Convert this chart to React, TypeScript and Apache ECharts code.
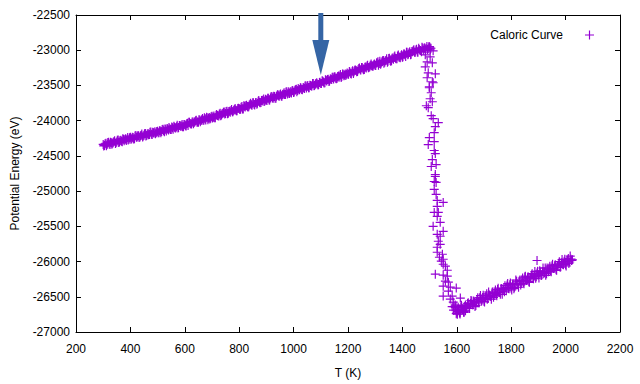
import React, { useEffect, useRef } from "react";
import * as echarts from "echarts";

// Solid (heating) branch: [T (K), E (eV)]
const solidBranch: number[][] = [
  [300,-24337],[305,-24352],[310,-24321],[315,-24335],[320,-24307],[325,-24338],[330,-24315],[335,-24321],[340,-24294],[345,-24323],
  [350,-24304],[355,-24276],[360,-24302],[365,-24279],[370,-24300],[375,-24263],[380,-24266],[385,-24281],[390,-24238],[395,-24263],
  [400,-24236],[405,-24255],[410,-24240],[415,-24255],[420,-24212],[425,-24233],[430,-24213],[435,-24232],[440,-24208],[445,-24232],
  [450,-24208],[455,-24182],[460,-24211],[465,-24183],[470,-24198],[475,-24161],[480,-24197],[485,-24170],[490,-24157],[495,-24172],
  [500,-24150],[505,-24171],[510,-24147],[515,-24153],[520,-24121],[525,-24156],[530,-24123],[535,-24110],[540,-24132],[545,-24114],
  [550,-24124],[555,-24099],[560,-24080],[565,-24105],[570,-24088],[575,-24103],[580,-24067],[585,-24080],[590,-24053],[595,-24088],
  [600,-24055],[605,-24074],[610,-24037],[615,-24022],[620,-24045],[625,-24047],[630,-24018],[635,-24024],[640,-24000],[645,-24022],
  [650,-24022],[655,-23991],[660,-23998],[665,-23969],[670,-23995],[675,-23974],[680,-23951],[685,-23986],[690,-23954],[695,-23964],
  [700,-23937],[705,-23950],[710,-23959],[715,-23922],[720,-23925],[725,-23935],[730,-23896],[735,-23918],[740,-23898],[745,-23876],
  [750,-23898],[755,-23868],[760,-23896],[765,-23867],[770,-23855],[775,-23873],[780,-23855],[785,-23826],[790,-23858],[795,-23829],
  [800,-23828],[805,-23838],[810,-23798],[815,-23833],[820,-23795],[825,-23784],[830,-23798],[835,-23802],[840,-23767],[845,-23775],
  [850,-23747],[855,-23769],[860,-23746],[865,-23766],[870,-23724],[875,-23737],[880,-23742],[885,-23711],[890,-23692],[895,-23719],
  [900,-23705],[905,-23682],[910,-23707],[915,-23679],[920,-23656],[925,-23681],[930,-23656],[935,-23681],[940,-23638],[945,-23648],
  [950,-23631],[955,-23650],[960,-23627],[965,-23605],[970,-23629],[975,-23588],[980,-23612],[985,-23616],[990,-23587],[995,-23573],
  [1000,-23600],[1005,-23567],[1010,-23553],[1015,-23571],[1020,-23558],[1025,-23531],[1030,-23559],[1035,-23534],[1040,-23543],[1045,-23505],
  [1050,-23516],[1055,-23532],[1060,-23497],[1065,-23508],[1070,-23473],[1075,-23504],[1080,-23483],[1085,-23462],[1090,-23493],[1095,-23458],
  [1100,-23472],[1105,-23434],[1110,-23450],[1115,-23460],[1120,-23426],[1125,-23415],[1130,-23443],[1135,-23409],[1140,-23415],[1145,-23385],
  [1150,-23380],[1155,-23397],[1160,-23399],[1165,-23366],[1170,-23367],[1175,-23387],[1180,-23337],[1185,-23361],[1190,-23337],[1195,-23340],
  [1200,-23339],[1205,-23302],[1210,-23332],[1215,-23306],[1220,-23329],[1225,-23286],[1230,-23288],[1235,-23303],[1240,-23258],[1245,-23278],
  [1250,-23247],[1255,-23263],[1260,-23273],[1265,-23237],[1270,-23225],[1275,-23249],[1280,-23233],[1285,-23196],[1290,-23225],[1295,-23205],
  [1300,-23218],[1305,-23183],[1310,-23163],[1315,-23190],[1320,-23198],[1325,-23163],[1330,-23147],[1335,-23171],[1340,-23147],[1345,-23171],
  [1350,-23117],[1355,-23145],[1360,-23151],[1365,-23111],[1370,-23096],[1375,-23113],[1380,-23120],[1385,-23067],[1390,-23098],[1395,-23077],
  [1400,-23099],[1405,-23054],[1410,-23067],[1415,-23028],[1420,-23066],[1425,-23034],[1430,-23065],[1435,-23018],[1440,-23003],[1445,-23028],
  [1450,-22996],[1455,-23027],[1460,-22973],[1465,-23003],[1470,-23020],[1475,-22967],[1480,-22975],[1485,-22994],[1490,-22946],[1495,-22978],
  [1500,-22950],[1505,-22972]
];

// Solid branch, intermediate samples
const solidBranchB: number[][] = [
  [302,-24358],[307,-24328],[312,-24356],[317,-24311],[322,-24330],[327,-24307],[332,-24334],[337,-24306],[342,-24284],[347,-24312],
  [352,-24279],[357,-24311],[362,-24280],[367,-24291],[372,-24255],[377,-24286],[382,-24256],[387,-24265],[392,-24276],[397,-24244],
  [402,-24263],[407,-24234],[412,-24261],[417,-24217],[422,-24236],[427,-24213],[432,-24240],[437,-24213],[442,-24191],[447,-24219],
  [452,-24186],[457,-24218],[462,-24188],[467,-24199],[472,-24163],[477,-24194],[482,-24165],[487,-24175],[492,-24185],[497,-24154],
  [502,-24173],[507,-24143],[512,-24170],[517,-24125],[522,-24144],[527,-24120],[532,-24147],[537,-24119],[542,-24097],[547,-24124],
  [552,-24091],[557,-24123],[562,-24092],[567,-24102],[572,-24066],[577,-24097],[582,-24067],[587,-24076],[592,-24086],[597,-24054],
  [602,-24073],[607,-24043],[612,-24069],[617,-24024],[622,-24042],[627,-24018],[632,-24044],[637,-24016],[642,-23993],[647,-24020],
  [652,-23986],[657,-24017],[662,-23986],[667,-23995],[672,-23959],[677,-23989],[682,-23959],[687,-23967],[692,-23977],[697,-23944],
  [702,-23963],[707,-23932],[712,-23958],[717,-23912],[722,-23930],[727,-23905],[732,-23931],[737,-23902],[742,-23879],[747,-23905],
  [752,-23871],[757,-23902],[762,-23870],[767,-23879],[772,-23842],[777,-23872],[782,-23841],[787,-23849],[792,-23858],[797,-23825],
  [802,-23842],[807,-23811],[812,-23836],[817,-23790],[822,-23807],[827,-23782],[832,-23807],[837,-23778],[842,-23754],[847,-23780],
  [852,-23745],[857,-23776],[862,-23743],[867,-23752],[872,-23714],[877,-23744],[882,-23712],[887,-23720],[892,-23728],[897,-23695],
  [902,-23713],[907,-23682],[912,-23708],[917,-23662],[922,-23680],[927,-23655],[932,-23681],[937,-23652],[942,-23629],[947,-23655],
  [952,-23621],[957,-23652],[962,-23620],[967,-23629],[972,-23592],[977,-23622],[982,-23591],[987,-23599],[992,-23608],[997,-23575],
  [1002,-23593],[1007,-23562],[1012,-23588],[1017,-23542],[1022,-23560],[1027,-23535],[1032,-23561],[1037,-23532],[1042,-23509],[1047,-23535],
  [1052,-23501],[1057,-23532],[1062,-23500],[1067,-23509],[1072,-23472],[1077,-23502],[1082,-23471],[1087,-23479],[1092,-23488],[1097,-23455],
  [1102,-23472],[1107,-23441],[1112,-23466],[1117,-23420],[1122,-23437],[1127,-23412],[1132,-23437],[1137,-23408],[1142,-23384],[1147,-23410],
  [1152,-23375],[1157,-23406],[1162,-23373],[1167,-23382],[1172,-23344],[1177,-23374],[1182,-23342],[1187,-23350],[1192,-23358],[1197,-23325],
  [1202,-23342],[1207,-23311],[1212,-23336],[1217,-23290],[1222,-23307],[1227,-23282],[1232,-23307],[1237,-23278],[1242,-23254],[1247,-23280],
  [1252,-23245],[1257,-23276],[1262,-23243],[1267,-23252],[1272,-23214],[1277,-23244],[1282,-23212],[1287,-23220],[1292,-23228],[1297,-23195],
  [1302,-23217],[1307,-23178],[1312,-23214],[1317,-23155],[1322,-23180],[1327,-23149],[1332,-23185],[1337,-23149],[1342,-23120],[1347,-23155],
  [1352,-23113],[1357,-23155],[1362,-23114],[1367,-23128],[1372,-23081],[1377,-23122],[1382,-23083],[1387,-23095],[1392,-23108],[1397,-23066],
  [1402,-23092],[1407,-23053],[1412,-23088],[1417,-23030],[1422,-23054],[1427,-23023],[1432,-23058],[1437,-23022],[1442,-22993],[1447,-23028],
  [1452,-22986],[1457,-23029],[1462,-22990],[1467,-23005],[1472,-22959],[1477,-23001],[1482,-22964],[1487,-22977],[1492,-22991],[1497,-22951],
  [1502,-22968]
];

// Melting transition (sparse points)
const transition: number[][] = [
  [1502,-22995],[1513,-23009],[1484,-23066],[1502,-23094],[1491,-23165],[1510,-23179],[1484,-23236],[1495,-23321],
  [1521,-23335],[1491,-23391],[1510,-23448],[1513,-23462],[1499,-23519],[1499,-23533],[1506,-23604],[1502,-23689],
  [1510,-23731],[1488,-23788],[1495,-23816],[1506,-23929],[1513,-23972],[1532,-24028],[1521,-24085],[1517,-24170],
  [1499,-24240],[1517,-24297],[1495,-24340],[1517,-24424],[1521,-24467],[1510,-24552],[1524,-24623],[1506,-24651],
  [1521,-24764],[1521,-24792],[1517,-24863],[1524,-24877],[1517,-24976],[1524,-25047],[1528,-25132],[1550,-25160],
  [1528,-25217],[1517,-25302],[1532,-25302],[1528,-25358],[1539,-25443],[1513,-25500],[1550,-25571],[1528,-25613],
  [1539,-25641],[1532,-25712],[1539,-25755],[1528,-25797],[1528,-25868],[1547,-25896],[1536,-25939],[1550,-25967],
  [1543,-25995],[1550,-26038],[1558,-26066],[1565,-26123],[1521,-26179],[1550,-26193],[1565,-26207],[1558,-26278],
  [1569,-26292],[1550,-26349],[1576,-26363],[1569,-26420],[1598,-26377],[1550,-26490],[1583,-26490],[1613,-26519],
  [1576,-26533],[1587,-26575],[1594,-26618],[1583,-26640],[1590,-26640],[1598,-26740],[1605,-26650],[1612,-26745],
  [1618,-26640],[1625,-26720],[1632,-26700],[1603,-26710],[1588,-26690]
];

// Liquid branch: [T (K), E (eV)]
const liquidBranch: number[][] = [
  [1595,-26655],[1600,-26720],[1605,-26685],[1610,-26730],[1615,-26650],[1620,-26690],[1625,-26710],[1630,-26635],[1635,-26650],[1640,-26595],
  [1645,-26660],[1650,-26597],[1655,-26561],[1660,-26614],[1665,-26580],[1670,-26624],[1675,-26537],[1680,-26568],[1685,-26511],[1690,-26565],
  [1695,-26511],[1700,-26564],[1705,-26505],[1710,-26458],[1715,-26526],[1720,-26476],[1725,-26497],[1730,-26436],[1735,-26508],[1740,-26451],
  [1745,-26467],[1750,-26397],[1755,-26436],[1760,-26465],[1765,-26383],[1770,-26397],[1775,-26430],[1780,-26368],[1785,-26333],[1790,-26383],
  [1795,-26328],[1800,-26378],[1805,-26329],[1810,-26385],[1815,-26322],[1820,-26280],[1825,-26325],[1830,-26277],[1835,-26332],[1840,-26274],
  [1845,-26305],[1850,-26221],[1855,-26270],[1860,-26230],[1865,-26285],[1870,-26225],[1875,-26190],[1880,-26240],[1885,-26205],[1890,-26237],
  [1895,-26164],[1900,-26190],[1905,-26131],[1910,-26199],[1915,-26144],[1920,-26168],[1925,-26091],[1930,-26173],[1935,-26106],[1940,-26118],
  [1945,-26133],[1950,-26061],[1955,-26098],[1960,-26058],[1965,-26117],[1970,-26057],[1975,-26024],[1980,-26082],[1985,-26019],[1990,-26043],
  [1995,-25996],[2000,-26044],[2005,-25995],[2010,-25955],[2015,-26006],[2020,-25966],[2025,-25976],[1895,-25985]
];

// Liquid branch, intermediate samples
const liquidBranchB: number[][] = [
  [1597,-26635],[1602,-26748],[1607,-26673],[1612,-26723],[1617,-26621],[1622,-26681],[1627,-26721],[1632,-26616],[1637,-26666],[1642,-26586],
  [1647,-26665],[1652,-26553],[1657,-26614],[1662,-26560],[1667,-26639],[1672,-26564],[1677,-26515],[1682,-26586],[1687,-26483],[1692,-26556],
  [1697,-26477],[1702,-26573],[1707,-26489],[1712,-26536],[1717,-26432],[1722,-26494],[1727,-26535],[1732,-26432],[1737,-26483],[1742,-26405],
  [1747,-26486],[1752,-26378],[1757,-26439],[1762,-26386],[1767,-26465],[1772,-26391],[1777,-26342],[1782,-26414],[1787,-26311],[1792,-26385],
  [1797,-26306],[1802,-26403],[1807,-26319],[1812,-26366],[1817,-26262],[1822,-26324],[1827,-26365],[1832,-26262],[1837,-26313],[1842,-26235],
  [1847,-26316],[1852,-26208],[1857,-26269],[1862,-26216],[1867,-26295],[1872,-26221],[1877,-26172],[1882,-26244],[1887,-26141],[1892,-26215],
  [1897,-26136],[1902,-26233],[1907,-26149],[1912,-26196],[1917,-26092],[1922,-26154],[1927,-26195],[1932,-26092],[1937,-26143],[1942,-26065],
  [1947,-26146],[1952,-26038],[1957,-26099],[1962,-26046],[1967,-26125],[1972,-26051],[1977,-26002],[1982,-26074],[1987,-25971],[1992,-26045],
  [1997,-25966],[2002,-26063],[2007,-25979],[2012,-26026],[2017,-25922],[2022,-25984]
];

const seriesName = "Caloric Curve";
const xTitle = "T (K)";
const yTitle = "Potential Energy (eV)";

// Arrow annotation (data coordinates)
const arrowT = 1100;
const arrowFromE = -22500;
const arrowToE = -23350;

const PLUS = "path://M0,4.35H10V5.65H0Z M4.35,0H5.65V10H4.35Z";
const FONT = "Liberation Sans, Arial, sans-serif";

export default function App() {
  const ref = useRef<HTMLDivElement>(null);
  useEffect(() => {
    document.body.style.margin = "0";
    const chart = echarts.init(ref.current!, null, { renderer: "svg" });
    const axisCommon = {
      axisLine: { show: true, lineStyle: { color: "#000", width: 1 } },
      axisTick: { show: true, inside: true, length: 5, lineStyle: { color: "#000" } },
      splitLine: { show: false },
    };
    const plain = (v: number) => String(v);
    chart.setOption({
      animation: false,
      backgroundColor: "#fff",
      grid: { left: 76, right: 20, top: 15, bottom: 51, containLabel: false },
      legend: {
        show: true,
        right: 41,
        top: 24,
        align: "right",
        itemWidth: 9,
        itemHeight: 9,
        textStyle: { fontFamily: FONT, fontSize: 12, color: "#000", padding: [0, 17, 0, 0] },
        data: [{ name: seriesName, icon: PLUS }],
      },
      xAxis: [
        {
          type: "value", min: 200, max: 2200, interval: 200, position: "bottom",
          ...axisCommon,
          axisLabel: { color: "#000", fontFamily: FONT, fontSize: 12, margin: 11, formatter: plain },
          name: xTitle, nameLocation: "middle", nameGap: 35,
          nameTextStyle: { color: "#000", fontFamily: FONT, fontSize: 12 },
        },
        {
          type: "value", min: 200, max: 2200, interval: 200, position: "top",
          ...axisCommon, axisLabel: { show: false },
        },
      ],
      yAxis: [
        {
          type: "value", min: -27000, max: -22500, interval: 500, position: "left",
          ...axisCommon,
          axisLabel: { color: "#000", fontFamily: FONT, fontSize: 12, margin: 6, formatter: plain },
          name: yTitle, nameLocation: "middle", nameGap: 55,
          nameTextStyle: { color: "#000", fontFamily: FONT, fontSize: 12 },
        },
        {
          type: "value", min: -27000, max: -22500, interval: 500, position: "right",
          ...axisCommon, axisLabel: { show: false },
        },
      ],
      series: [
        {
          name: seriesName,
          type: "scatter",
          xAxisIndex: 0,
          yAxisIndex: 0,
          symbol: PLUS,
          symbolSize: 9,
          itemStyle: { color: "#9400d3", opacity: 1 },
          emphasis: { disabled: true },
          data: [...solidBranch, ...solidBranchB, ...transition, ...liquidBranch, ...liquidBranchB],
        },
      ],
    });
    const top = chart.convertToPixel({ xAxisIndex: 0, yAxisIndex: 0 }, [arrowT, arrowFromE]) as number[];
    const tip = chart.convertToPixel({ xAxisIndex: 0, yAxisIndex: 0 }, [arrowT, arrowToE]) as number[];
    const headLen = 35, headHalf = 8.5, shaftHalf = 2.5;
    const x = tip[0];
    const base = tip[1] - headLen;
    chart.setOption({
      graphic: [
        {
          type: "rect",
          shape: { x: x - shaftHalf, y: top[1] - 2, width: shaftHalf * 2, height: base - top[1] + 3 },
          style: { fill: "#3565a5" },
          z: 100,
        },
        {
          type: "polygon",
          shape: { points: [[x - headHalf, base], [x + headHalf, base], [x, tip[1]]] },
          style: { fill: "#3565a5" },
          z: 100,
        },
      ],
    });
    return () => chart.dispose();
  }, []);
  return <div ref={ref} style={{ position: "fixed", left: 0, top: 0, width: 640, height: 384 }} />;
}
